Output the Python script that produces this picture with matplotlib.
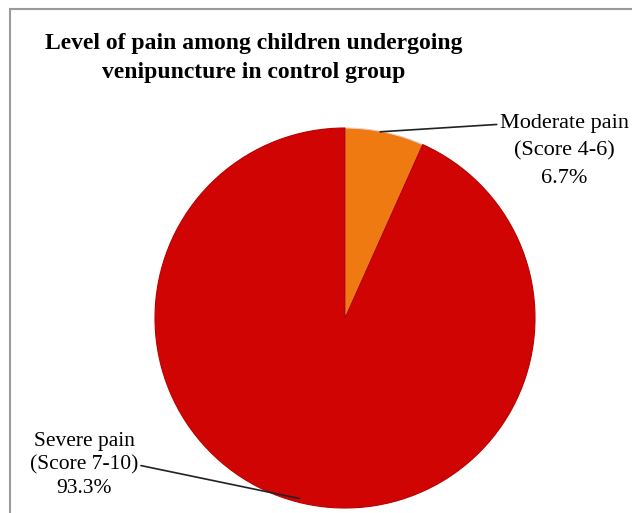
import matplotlib.pyplot as plt
from matplotlib.patches import Rectangle

labels = ["Moderate pain\n(Score 4-6)", "Severe pain\n(Score 7-10)"]
values = [6.7, 93.3]
colors = ["#F07A12", "#D10404"]
title = "Level of pain among children undergoing\nvenipuncture in control group"

W, H = 632, 513
fig = plt.figure(figsize=(W / 100, H / 100), dpi=100)

# chart area border (gray, running off the right/bottom of the image)
fig.patches.append(Rectangle((10 / W, -0.1), 1.2, (H - 9) / H + 0.1,
                             transform=fig.transFigure, fill=False,
                             edgecolor="#9a9a9a", linewidth=1.5))

# pie axes: centre (345, 318) px, radius 190 px
cx, cy, r = 345, 318, 190
ax = fig.add_axes([(cx - r) / W, (H - cy - r) / H, 2 * r / W, 2 * r / H])
wedges, _ = ax.pie(values, colors=colors, startangle=90, counterclock=False,
                   radius=1.0,
                   wedgeprops=dict(edgecolor="#b80000", linewidth=0.8))
wedges[0].set_edgecolor("#e8d0c8")
ax.set_xlim(-1, 1)
ax.set_ylim(-1, 1)
ax.set_aspect("equal")
ax.axis("off")

serif = ["Liberation Serif", "DejaVu Serif"]

# data labels with leader lines
ax.annotate(f"{labels[0]}\n{values[0]}%", xy=(0.185, 0.98), xycoords="data",
            xytext=(564 / W, 1 - 151 / H), textcoords="figure fraction",
            ha="center", va="center", fontsize=16, family=serif,
            linespacing=1.6,
            arrowprops=dict(arrowstyle="-", color="#222222", lw=1.2,
                            shrinkA=0, shrinkB=0,
                            relpos=(0.0, 0.86)))
ax.annotate(f"{labels[1]}\n{values[1]}%", xy=(-0.24, -0.95), xycoords="data",
            xytext=(84 / W, 1 - 465 / H), textcoords="figure fraction",
            ha="center", va="center", fontsize=15.5, family=serif,
            linespacing=1.3,
            arrowprops=dict(arrowstyle="-", color="#222222", lw=1.2,
                            shrinkA=0, shrinkB=0,
                            relpos=(1.0, 0.5)))

fig.text(254 / W, 1 - 58 / H, title, ha="center", va="center",
         fontsize=17, fontweight="bold", linespacing=1.45,
         family=["Liberation Serif", "DejaVu Serif"])

fig.savefig("out.png", dpi=100)
